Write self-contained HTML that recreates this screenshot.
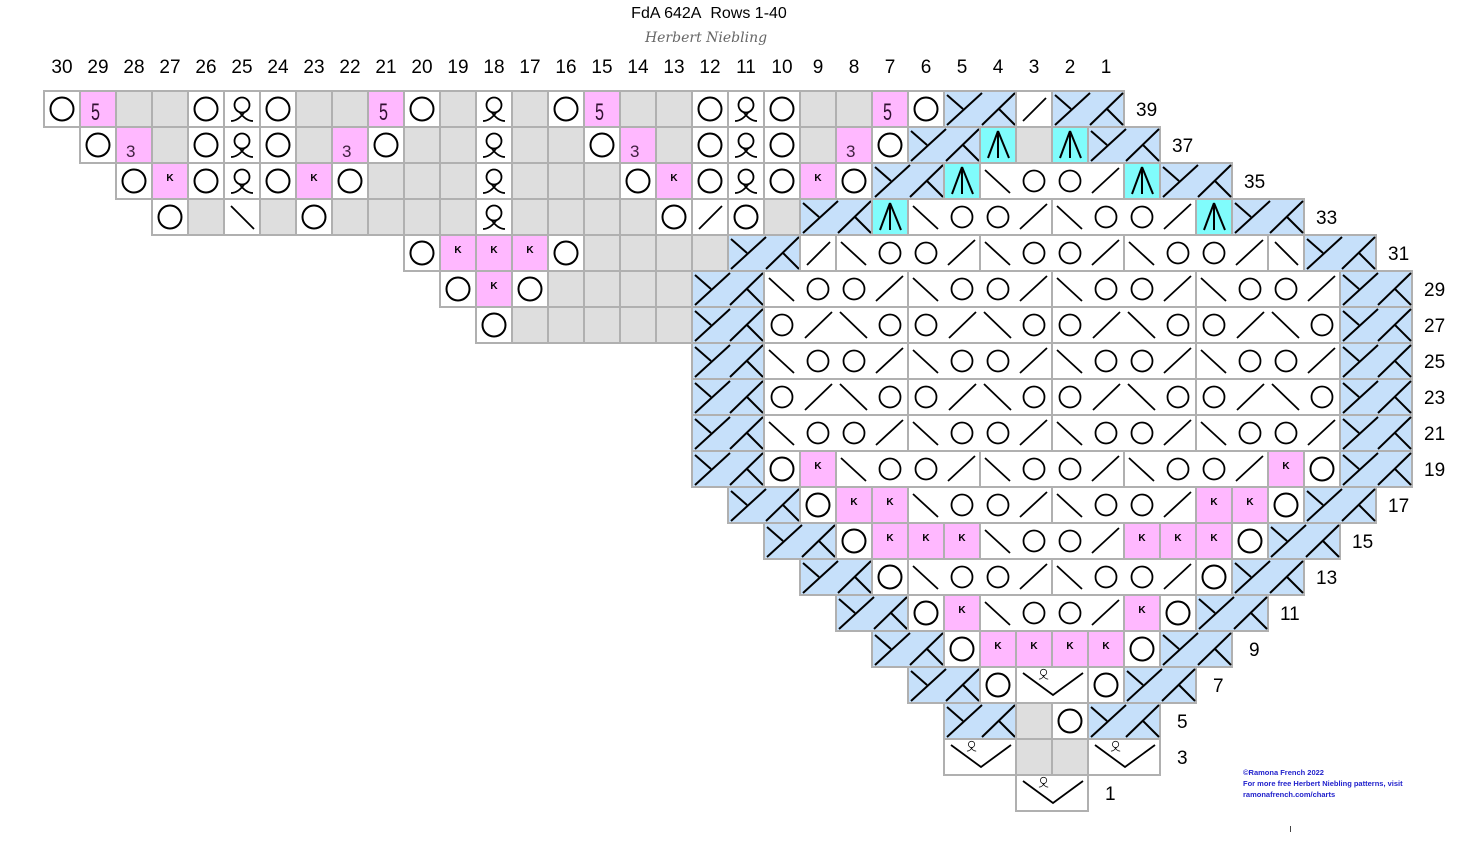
<!DOCTYPE html>
<html><head><meta charset="utf-8"><style>
html,body{margin:0;padding:0;background:#fff;}
svg{display:block;}
.n{font-family:"Liberation Sans",sans-serif;font-size:19px;fill:#000;}
.k{font-family:"Liberation Sans",sans-serif;font-size:10px;font-weight:bold;fill:#000;text-anchor:middle;}
.f{font-family:"Liberation Sans",sans-serif;font-size:24px;fill:#301030;}
.t{font-family:"Liberation Sans",sans-serif;font-size:17px;fill:#402040;}
.ft{font-family:"Liberation Sans",sans-serif;font-size:7.5px;font-weight:bold;fill:#2222cc;}
</style></head><body>
<svg width="1458" height="856" viewBox="0 0 1458 856" xmlns="http://www.w3.org/2000/svg">
<defs>
<g id="qp" fill="none" stroke="#000" stroke-width="1.8"><circle cx="18" cy="14" r="7.5"/><path d="M7,30 C13,30 17,26 20.5,21 M29,30 C23,30 19,26 15.5,21"/></g>
<rect id="w" width="36" height="36" fill="#fff" stroke="#b0b0b0" stroke-width="2"/>
<rect id="g" width="36" height="36" fill="#dedede" stroke="#b0b0b0" stroke-width="2"/>
<rect id="p" width="36" height="36" fill="#ffb8ff" stroke="#b0b0b0" stroke-width="2"/>
<g id="O"><use href="#w"/><circle cx="18" cy="18" r="11.5" fill="none" stroke="#000" stroke-width="2"/></g>
<g id="Q"><use href="#w"/><use href="#qp"/></g>
<g id="S"><use href="#w"/><line x1="7" y1="30" x2="30" y2="7" stroke="#000" stroke-width="1.8"/></g>
<g id="B"><use href="#w"/><line x1="7" y1="7" x2="30" y2="30" stroke="#000" stroke-width="1.8"/></g>
<g id="A"><rect width="36" height="36" fill="#80fcfc" stroke="#b0b0b0" stroke-width="2"/><g stroke="#000" stroke-width="2"><line x1="18" y1="4" x2="8" y2="31"/><line x1="18" y1="4" x2="18" y2="31"/><line x1="18" y1="4" x2="29" y2="31"/></g></g>
<g id="X"><rect width="72" height="36" fill="#c6e0fa" stroke="#b0b0b0" stroke-width="2"/><g stroke="#000" stroke-width="2"><line x1="3" y1="34" x2="38" y2="2"/><line x1="38" y1="34" x2="71" y2="2"/><line x1="3" y1="4" x2="19" y2="18"/><line x1="55" y1="18" x2="71" y2="34"/></g></g>
<g id="V"><rect width="72" height="36" fill="#fff" stroke="#b0b0b0" stroke-width="2"/><polyline points="7,6 37,28 67,6" fill="none" stroke="#000" stroke-width="1.8"/><use href="#qp" transform="translate(20,-0.5) scale(0.42)"/></g>
<g id="G1"><rect width="144" height="36" fill="#fff" stroke="#b0b0b0" stroke-width="2"/><g fill="none" stroke="#000" stroke-width="1.8"><line x1="5" y1="7" x2="30" y2="30"/><circle cx="54" cy="18" r="10.5"/><circle cx="90" cy="18" r="10.5"/><line x1="112" y1="30" x2="139" y2="5"/></g></g>
<g id="G2"><rect width="144" height="36" fill="#fff" stroke="#b0b0b0" stroke-width="2"/><g fill="none" stroke="#000" stroke-width="1.8"><circle cx="18" cy="18" r="10.5"/><line x1="41" y1="31" x2="68" y2="5"/><line x1="76" y1="5" x2="103" y2="31"/><circle cx="126" cy="18" r="10.5"/></g></g>
</defs>

<text x="709" y="18" text-anchor="middle" style="font-family:'Liberation Sans',sans-serif;font-size:16px;">FdA 642A&#160; Rows 1-40</text>
<text x="706" y="42" text-anchor="middle" style="font-family:'DejaVu Serif',serif;font-style:italic;font-size:14px;fill:#666;">Herbert Niebling</text>

<g class="n" text-anchor="middle">
<text x="62" y="73">30</text><text x="98" y="73">29</text><text x="134" y="73">28</text><text x="170" y="73">27</text><text x="206" y="73">26</text><text x="242" y="73">25</text><text x="278" y="73">24</text><text x="314" y="73">23</text><text x="350" y="73">22</text><text x="386" y="73">21</text><text x="422" y="73">20</text><text x="458" y="73">19</text><text x="494" y="73">18</text><text x="530" y="73">17</text><text x="566" y="73">16</text><text x="602" y="73">15</text><text x="638" y="73">14</text><text x="674" y="73">13</text><text x="710" y="73">12</text><text x="746" y="73">11</text><text x="782" y="73">10</text><text x="818" y="73">9</text><text x="854" y="73">8</text><text x="890" y="73">7</text><text x="926" y="73">6</text><text x="962" y="73">5</text><text x="998" y="73">4</text><text x="1034" y="73">3</text><text x="1070" y="73">2</text><text x="1106" y="73">1</text>
</g>

<!-- Row 39 -->
<use href="#O" x="44" y="91"/><use href="#p" x="80" y="91"/><text class="f" x="91" y="120" textLength="9" lengthAdjust="spacingAndGlyphs">5</text>
<use href="#g" x="116" y="91"/><use href="#g" x="152" y="91"/><use href="#O" x="188" y="91"/><use href="#Q" x="224" y="91"/><use href="#O" x="260" y="91"/><use href="#g" x="296" y="91"/><use href="#g" x="332" y="91"/>
<use href="#p" x="368" y="91"/><text class="f" x="379" y="120" textLength="9" lengthAdjust="spacingAndGlyphs">5</text>
<use href="#O" x="404" y="91"/><use href="#g" x="440" y="91"/><use href="#Q" x="476" y="91"/><use href="#g" x="512" y="91"/><use href="#O" x="548" y="91"/>
<use href="#p" x="584" y="91"/><text class="f" x="595" y="120" textLength="9" lengthAdjust="spacingAndGlyphs">5</text>
<use href="#g" x="620" y="91"/><use href="#g" x="656" y="91"/><use href="#O" x="692" y="91"/><use href="#Q" x="728" y="91"/><use href="#O" x="764" y="91"/><use href="#g" x="800" y="91"/><use href="#g" x="836" y="91"/>
<use href="#p" x="872" y="91"/><text class="f" x="883" y="120" textLength="9" lengthAdjust="spacingAndGlyphs">5</text>
<use href="#O" x="908" y="91"/><use href="#X" x="944" y="91"/><use href="#S" x="1016" y="91"/><use href="#X" x="1052" y="91"/>

<!-- Row 37 -->
<use href="#O" x="80" y="127"/><use href="#p" x="116" y="127"/><text class="t" x="126" y="157">3</text>
<use href="#g" x="152" y="127"/><use href="#O" x="188" y="127"/><use href="#Q" x="224" y="127"/><use href="#O" x="260" y="127"/><use href="#g" x="296" y="127"/>
<use href="#p" x="332" y="127"/><text class="t" x="342" y="157">3</text>
<use href="#O" x="368" y="127"/><use href="#g" x="404" y="127"/><use href="#g" x="440" y="127"/><use href="#Q" x="476" y="127"/><use href="#g" x="512" y="127"/><use href="#g" x="548" y="127"/><use href="#O" x="584" y="127"/>
<use href="#p" x="620" y="127"/><text class="t" x="630" y="157">3</text>
<use href="#g" x="656" y="127"/><use href="#O" x="692" y="127"/><use href="#Q" x="728" y="127"/><use href="#O" x="764" y="127"/><use href="#g" x="800" y="127"/>
<use href="#p" x="836" y="127"/><text class="t" x="846" y="157">3</text>
<use href="#O" x="872" y="127"/><use href="#X" x="908" y="127"/><use href="#A" x="980" y="127"/><use href="#g" x="1016" y="127"/><use href="#A" x="1052" y="127"/><use href="#X" x="1088" y="127"/>

<!-- Row 35 -->
<use href="#O" x="116" y="163"/><use href="#p" x="152" y="163"/><text class="k" x="170" y="181">K</text>
<use href="#O" x="188" y="163"/><use href="#Q" x="224" y="163"/><use href="#O" x="260" y="163"/><use href="#p" x="296" y="163"/><text class="k" x="314" y="181">K</text>
<use href="#O" x="332" y="163"/><use href="#g" x="368" y="163"/><use href="#g" x="404" y="163"/><use href="#g" x="440" y="163"/><use href="#Q" x="476" y="163"/><use href="#g" x="512" y="163"/><use href="#g" x="548" y="163"/><use href="#g" x="584" y="163"/><use href="#O" x="620" y="163"/>
<use href="#p" x="656" y="163"/><text class="k" x="674" y="181">K</text>
<use href="#O" x="692" y="163"/><use href="#Q" x="728" y="163"/><use href="#O" x="764" y="163"/><use href="#p" x="800" y="163"/><text class="k" x="818" y="181">K</text>
<use href="#O" x="836" y="163"/><use href="#X" x="872" y="163"/><use href="#A" x="944" y="163"/><use href="#G1" x="980" y="163"/><use href="#A" x="1124" y="163"/><use href="#X" x="1160" y="163"/>

<!-- Row 33 -->
<use href="#O" x="152" y="199"/><use href="#g" x="188" y="199"/><use href="#B" x="224" y="199"/><use href="#g" x="260" y="199"/><use href="#O" x="296" y="199"/><use href="#g" x="332" y="199"/><use href="#g" x="368" y="199"/><use href="#g" x="404" y="199"/><use href="#g" x="440" y="199"/><use href="#Q" x="476" y="199"/><use href="#g" x="512" y="199"/><use href="#g" x="548" y="199"/><use href="#g" x="584" y="199"/><use href="#g" x="620" y="199"/><use href="#O" x="656" y="199"/><use href="#S" x="692" y="199"/><use href="#O" x="728" y="199"/><use href="#g" x="764" y="199"/><use href="#X" x="800" y="199"/><use href="#A" x="872" y="199"/><use href="#G1" x="908" y="199"/><use href="#G1" x="1052" y="199"/><use href="#A" x="1196" y="199"/><use href="#X" x="1232" y="199"/>

<!-- Row 31 -->
<use href="#O" x="404" y="235"/><use href="#p" x="440" y="235"/><use href="#p" x="476" y="235"/><use href="#p" x="512" y="235"/><text class="k" x="458" y="253">K</text><text class="k" x="494" y="253">K</text><text class="k" x="530" y="253">K</text>
<use href="#O" x="548" y="235"/><use href="#g" x="584" y="235"/><use href="#g" x="620" y="235"/><use href="#g" x="656" y="235"/><use href="#g" x="692" y="235"/><use href="#X" x="728" y="235"/><use href="#S" x="800" y="235"/><use href="#G1" x="836" y="235"/><use href="#G1" x="980" y="235"/><use href="#G1" x="1124" y="235"/><use href="#B" x="1268" y="235"/><use href="#X" x="1304" y="235"/>

<!-- Row 29 -->
<use href="#O" x="440" y="271"/><use href="#p" x="476" y="271"/><text class="k" x="494" y="289">K</text><use href="#O" x="512" y="271"/><use href="#g" x="548" y="271"/><use href="#g" x="584" y="271"/><use href="#g" x="620" y="271"/><use href="#g" x="656" y="271"/><use href="#X" x="692" y="271"/><use href="#G1" x="764" y="271"/><use href="#G1" x="908" y="271"/><use href="#G1" x="1052" y="271"/><use href="#G1" x="1196" y="271"/><use href="#X" x="1340" y="271"/>

<!-- Row 27 -->
<use href="#O" x="476" y="307"/><use href="#g" x="512" y="307"/><use href="#g" x="548" y="307"/><use href="#g" x="584" y="307"/><use href="#g" x="620" y="307"/><use href="#g" x="656" y="307"/><use href="#X" x="692" y="307"/><use href="#G2" x="764" y="307"/><use href="#G2" x="908" y="307"/><use href="#G2" x="1052" y="307"/><use href="#G2" x="1196" y="307"/><use href="#X" x="1340" y="307"/>

<!-- Row 25 -->
<use href="#X" x="692" y="343"/><use href="#G1" x="764" y="343"/><use href="#G1" x="908" y="343"/><use href="#G1" x="1052" y="343"/><use href="#G1" x="1196" y="343"/><use href="#X" x="1340" y="343"/>
<!-- Row 23 -->
<use href="#X" x="692" y="379"/><use href="#G2" x="764" y="379"/><use href="#G2" x="908" y="379"/><use href="#G2" x="1052" y="379"/><use href="#G2" x="1196" y="379"/><use href="#X" x="1340" y="379"/>
<!-- Row 21 -->
<use href="#X" x="692" y="415"/><use href="#G1" x="764" y="415"/><use href="#G1" x="908" y="415"/><use href="#G1" x="1052" y="415"/><use href="#G1" x="1196" y="415"/><use href="#X" x="1340" y="415"/>

<!-- Row 19 -->
<use href="#X" x="692" y="451"/><use href="#O" x="764" y="451"/><use href="#p" x="800" y="451"/><text class="k" x="818" y="469">K</text><use href="#G1" x="836" y="451"/><use href="#G1" x="980" y="451"/><use href="#G1" x="1124" y="451"/><use href="#p" x="1268" y="451"/><text class="k" x="1286" y="469">K</text><use href="#O" x="1304" y="451"/><use href="#X" x="1340" y="451"/>

<!-- Row 17 -->
<use href="#X" x="728" y="487"/><use href="#O" x="800" y="487"/><use href="#p" x="836" y="487"/><use href="#p" x="872" y="487"/><text class="k" x="854" y="505">K</text><text class="k" x="890" y="505">K</text><use href="#G1" x="908" y="487"/><use href="#G1" x="1052" y="487"/><use href="#p" x="1196" y="487"/><use href="#p" x="1232" y="487"/><text class="k" x="1214" y="505">K</text><text class="k" x="1250" y="505">K</text><use href="#O" x="1268" y="487"/><use href="#X" x="1304" y="487"/>

<!-- Row 15 -->
<use href="#X" x="764" y="523"/><use href="#O" x="836" y="523"/><use href="#p" x="872" y="523"/><use href="#p" x="908" y="523"/><use href="#p" x="944" y="523"/><text class="k" x="890" y="541">K</text><text class="k" x="926" y="541">K</text><text class="k" x="962" y="541">K</text><use href="#G1" x="980" y="523"/><use href="#p" x="1124" y="523"/><use href="#p" x="1160" y="523"/><use href="#p" x="1196" y="523"/><text class="k" x="1142" y="541">K</text><text class="k" x="1178" y="541">K</text><text class="k" x="1214" y="541">K</text><use href="#O" x="1232" y="523"/><use href="#X" x="1268" y="523"/>

<!-- Row 13 -->
<use href="#X" x="800" y="559"/><use href="#O" x="872" y="559"/><use href="#G1" x="908" y="559"/><use href="#G1" x="1052" y="559"/><use href="#O" x="1196" y="559"/><use href="#X" x="1232" y="559"/>

<!-- Row 11 -->
<use href="#X" x="836" y="595"/><use href="#O" x="908" y="595"/><use href="#p" x="944" y="595"/><text class="k" x="962" y="613">K</text><use href="#G1" x="980" y="595"/><use href="#p" x="1124" y="595"/><text class="k" x="1142" y="613">K</text><use href="#O" x="1160" y="595"/><use href="#X" x="1196" y="595"/>

<!-- Row 9 -->
<use href="#X" x="872" y="631"/><use href="#O" x="944" y="631"/><use href="#p" x="980" y="631"/><use href="#p" x="1016" y="631"/><use href="#p" x="1052" y="631"/><use href="#p" x="1088" y="631"/><text class="k" x="998" y="649">K</text><text class="k" x="1034" y="649">K</text><text class="k" x="1070" y="649">K</text><text class="k" x="1106" y="649">K</text><use href="#O" x="1124" y="631"/><use href="#X" x="1160" y="631"/>

<!-- Row 7 -->
<use href="#X" x="908" y="667"/><use href="#O" x="980" y="667"/><use href="#V" x="1016" y="667"/><use href="#O" x="1088" y="667"/><use href="#X" x="1124" y="667"/>
<!-- Row 5 -->
<use href="#X" x="944" y="703"/><use href="#g" x="1016" y="703"/><use href="#O" x="1052" y="703"/><use href="#X" x="1088" y="703"/>
<!-- Row 3 -->
<use href="#V" x="944" y="739"/><use href="#g" x="1016" y="739"/><use href="#g" x="1052" y="739"/><use href="#V" x="1088" y="739"/>
<!-- Row 1 -->
<use href="#V" x="1016" y="775"/>

<g class="n">
<text x="1136" y="116">39</text><text x="1172" y="152">37</text><text x="1244" y="188">35</text><text x="1316" y="224">33</text><text x="1388" y="260">31</text>
<text x="1424" y="296">29</text><text x="1424" y="332">27</text><text x="1424" y="368">25</text><text x="1424" y="404">23</text><text x="1424" y="440">21</text><text x="1424" y="476">19</text>
<text x="1388" y="512">17</text><text x="1352" y="548">15</text><text x="1316" y="584">13</text><text x="1280" y="620">11</text>
<text x="1249" y="656">9</text><text x="1213" y="692">7</text><text x="1177" y="728">5</text><text x="1177" y="764">3</text><text x="1105" y="800">1</text>
</g>

<text class="ft" x="1243" y="775">©Ramona French 2022</text>
<text class="ft" x="1243" y="786">For more free Herbert Niebling patterns, visit</text>
<text class="ft" x="1243" y="797">ramonafrench.com/charts</text>
<rect x="1290" y="826" width="1" height="6" fill="#444"/>
</svg>
</body></html>
